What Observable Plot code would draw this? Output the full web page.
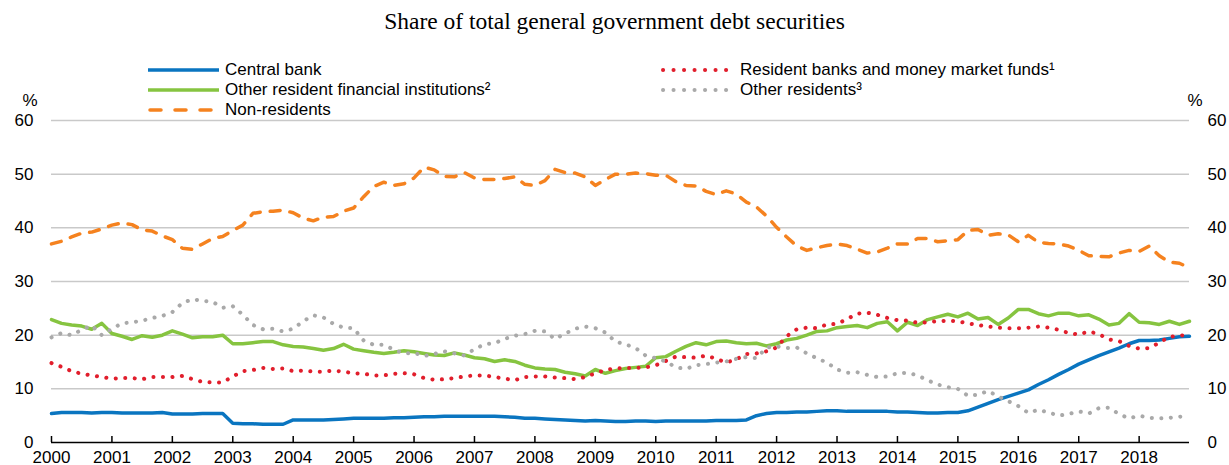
<!DOCTYPE html>
<html><head><meta charset="utf-8">
<script src="https://cdn.jsdelivr.net/npm/d3@7"></script>
<script src="https://cdn.jsdelivr.net/npm/@observablehq/plot@0.6"></script>
<style>
body{margin:0;background:#fff;}
#wrap{position:relative;width:1229px;height:465px;font-family:"Liberation Sans",Arial,sans-serif;color:#000;}
#chart{position:absolute;left:0;top:0;}
#title{position:absolute;left:0;top:8px;width:1229px;text-align:center;font-family:"Liberation Serif","Times New Roman",serif;font-size:23.5px;line-height:27px;}
.leg{position:absolute;font-size:17px;display:flex;align-items:center;height:20px;white-space:nowrap;}
.leg svg{display:block;}
</style></head><body>
<div id="wrap"><div id="chart"></div><div id="title"></div><div id="legend"></div></div>
<script>
const titleText = "Share of total general government debt securities";
const seriesNames = ["Central bank", "Other resident financial institutions²", "Non-residents", "Resident banks and money market funds¹", "Other residents³"];
const yearTicks = d3.range(2000, 2019);
const yTicks = [0, 10, 20, 30, 40, 50, 60];
// bimonthly observations: Jan, Mar, May, Jul, Sep, Nov of each year 2000–2018
const periods = d3.range(114).map(i => 2000 + i / 6);

const centralBank = [
5.4,5.6,5.6,5.6,5.5,5.6, 5.6,5.5,5.5,5.5,5.5,5.6, 5.3,5.3,5.3,5.4,5.4,5.4,
3.6,3.5,3.5,3.4,3.4,3.4, 4.2,4.2,4.2,4.2,4.3,4.4, 4.5,4.5,4.5,4.5,4.6,4.6,
4.7,4.8,4.8,4.9,4.9,4.9, 4.9,4.9,4.9,4.8,4.7,4.5, 4.5,4.4,4.3,4.2,4.1,4.0,
4.1,4.0,3.9,3.9,4.0,4.0, 3.9,4.0,4.0,4.0,4.0,4.0, 4.1,4.1,4.1,4.2,5.0,5.4,
5.6,5.6,5.7,5.7,5.8,5.9, 5.9,5.8,5.8,5.8,5.8,5.8, 5.7,5.7,5.6,5.5,5.5,5.6,
5.6,5.9,6.6,7.3,8.0,8.6, 9.2,9.8,10.8,11.7,12.7,13.6, 14.6,15.4,16.2,16.9,17.6,18.4,
19.0,19.0,19.1,19.4,19.7,19.8];

const otherFinancial = [
22.9,22.2,21.9,21.7,21.1,22.2, 20.3,19.8,19.2,19.9,19.6,20.0, 20.8,20.2,19.5,19.7,19.7,20.0,
18.4,18.4,18.6,18.8,18.8,18.2, 17.9,17.8,17.5,17.2,17.5,18.3, 17.4,17.1,16.8,16.6,16.8,17.1,
16.9,16.6,16.3,16.2,16.7,16.3, 15.8,15.6,15.1,15.4,15.1,14.4, 13.9,13.7,13.6,13.1,12.8,12.4,
13.6,12.9,13.4,13.8,14.0,14.2, 15.8,16.0,17.0,17.9,18.6,18.2, 18.8,18.9,18.6,18.4,18.5,18.0,
18.4,19.1,19.4,20.0,20.7,20.8, 21.4,21.6,21.8,21.4,22.2,22.5, 20.8,22.4,21.8,22.9,23.4,23.9,
23.4,24.1,23.0,23.3,22.0,23.2, 24.8,24.8,24.0,23.6,24.1,24.1, 23.6,23.8,23.0,21.9,22.2,24.0,
22.4,22.3,22.0,22.6,22.0,22.6];

const nonResidents = [
37.0,37.5,38.3,39.0,39.2,39.8, 40.5,40.9,40.6,39.6,39.4,38.5, 37.8,36.2,36.0,37.0,38.0,38.4,
39.5,40.5,42.7,43.0,43.1,43.3, 42.8,41.8,41.3,42.0,42.1,43.1, 43.7,45.8,47.7,48.5,47.9,48.2,
49.3,51.3,50.8,49.6,49.5,50.3, 49.3,49.0,49.0,49.2,49.5,48.1, 47.9,48.8,50.9,50.3,50.2,49.5,
47.9,49.0,50.0,50.0,50.2,50.1, 49.8,49.8,48.6,47.9,47.8,46.8, 46.2,46.9,46.3,44.8,43.9,42.2,
40.1,38.3,36.6,35.8,36.3,36.7, 37.0,36.7,36.0,35.3,35.5,36.2, 37.0,37.0,38.0,38.0,37.4,37.6,
37.8,39.5,39.7,38.6,38.9,38.7, 37.4,38.6,37.3,37.1,37.0,36.6, 35.8,34.8,34.7,34.6,35.3,35.8,
35.6,36.6,34.8,33.6,33.4,32.5];

const residentBanks = [
14.8,14.1,13.3,12.8,12.5,12.2, 11.9,12.0,12.0,11.8,12.2,12.2, 12.2,12.4,11.8,11.3,11.2,11.2,
12.3,13.3,13.5,13.9,13.7,13.8, 13.3,13.4,13.2,13.2,13.4,13.2, 12.9,12.8,12.5,12.5,12.8,12.9,
12.7,12.0,11.7,11.8,12.0,12.3, 12.5,12.5,12.2,11.9,11.6,12.2, 12.3,12.3,12.1,12.0,11.8,12.2,
12.9,13.5,13.8,13.9,13.9,14.0, 14.4,15.2,16.0,15.9,15.8,16.2, 15.6,14.9,15.5,16.5,16.6,17.0,
17.7,19.8,21.1,21.4,21.3,22.0, 22.1,23.0,24.0,24.2,23.8,23.2, 22.8,22.7,22.3,22.4,22.6,22.7,
22.6,22.2,21.9,21.6,21.4,21.3, 21.3,21.4,21.6,21.4,21.0,20.4, 20.1,20.7,20.2,19.2,18.9,18.0,
17.5,17.6,18.6,19.7,19.9,20.1];

const otherResidents = [
19.6,20.4,20.0,21.0,21.8,20.0, 21.2,22.2,22.4,22.7,23.2,23.6, 24.3,26.0,26.7,26.4,26.2,25.1,
25.4,23.8,21.9,21.1,21.2,20.7, 21.2,22.6,23.7,23.3,22.1,21.4, 21.3,19.0,18.2,18.2,17.3,16.6,
16.7,16.1,16.5,17.0,16.6,16.2, 17.4,18.3,18.5,19.3,19.9,20.2, 20.8,20.7,19.3,20.3,21.2,21.6,
21.3,20.5,18.8,18.3,17.6,16.2, 15.7,15.1,14.0,13.7,14.4,14.6, 14.9,15.1,15.6,15.9,15.7,17.7,
17.9,17.6,17.7,16.6,15.7,14.9, 13.6,13.0,13.1,12.6,12.2,12.3, 12.9,13.0,12.5,11.6,10.8,10.3,
10.0,8.7,8.9,9.6,8.6,7.7, 6.8,5.5,6.1,5.6,5.0,5.3, 5.8,5.4,6.4,6.5,5.3,4.5,
5.0,4.6,4.5,4.6,4.8,5.0];

const styles = {
  "Central bank": {stroke: "#0a75c0", strokeWidth: 3.5, strokeDasharray: null, strokeLinecap: "round"},
  "Other resident financial institutions²": {stroke: "#86c440", strokeWidth: 3.5, strokeDasharray: null, strokeLinecap: "round"},
  "Non-residents": {stroke: "#f5821f", strokeWidth: 3.5, strokeDasharray: "10,10", strokeLinecap: "round"},
  "Resident banks and money market funds¹": {stroke: "#e11e2c", strokeWidth: 4, strokeDasharray: "0.1,9.4", strokeLinecap: "round"},
  "Other residents³": {stroke: "#a9a9a9", strokeWidth: 4, strokeDasharray: "0.1,9.4", strokeLinecap: "round"}
};
const valuesByName = {
  "Central bank": centralBank,
  "Other resident financial institutions²": otherFinancial,
  "Non-residents": nonResidents,
  "Resident banks and money market funds¹": residentBanks,
  "Other residents³": otherResidents
};
const drawOrder = ["Non-residents", "Other resident financial institutions²", "Central bank", "Resident banks and money market funds¹", "Other residents³"];

const W = 1229, H = 465, mT = 120, mB = 23, mL = 51, mR = 40;
const plotH = H - mT - mB;

const lineMarks = drawOrder.map(name => {
  const data = valuesByName[name].map((v, i) => ({t: periods[i], v}));
  const s = styles[name];
  return Plot.line(data, {x: "t", y: "v", stroke: s.stroke, strokeWidth: s.strokeWidth,
    strokeDasharray: s.strokeDasharray, strokeLinecap: s.strokeLinecap, strokeLinejoin: "round"});
});

const chart = Plot.plot({
  width: W, height: H, marginTop: mT, marginBottom: mB, marginLeft: mL, marginRight: mR,
  x: {domain: [2000, periods[periods.length - 1]]},
  y: {domain: [0, 60]},
  style: {fontFamily: "'Liberation Sans', Arial, sans-serif", fontSize: "17px", color: "#000", background: "transparent", overflow: "visible"},
  marks: [
    Plot.gridY(yTicks.filter(d => d > 0), {stroke: "#c9c9c9", strokeOpacity: 1, strokeWidth: 1.5}),
    Plot.ruleY([0], {stroke: "#000", strokeWidth: 1.5}),
    Plot.ruleX(yearTicks, {x: d => d, insetTop: plotH - 6, stroke: "#000", strokeWidth: 1.5}),
    Plot.axisX(yearTicks, {tickSize: 0, tickPadding: 8, tickFormat: d => String(d), label: null}),
    Plot.axisY(yTicks, {anchor: "left", tickSize: 0, tickPadding: 18, label: null}),
    Plot.axisY(yTicks, {anchor: "right", tickSize: 0, tickPadding: 18, label: null}),
    Plot.text(["%"], {text: d => d, frameAnchor: "top-left", dx: -29, dy: -27}),
    Plot.text(["%"], {text: d => d, frameAnchor: "top-right", dx: 13, dy: -27}),
    ...lineMarks
  ]
});
document.getElementById("chart").appendChild(chart);
document.getElementById("title").textContent = titleText;

// legend
const legendLayout = [
  {name: "Central bank", left: 148, cy: 70, lw: 71, gap: 6},
  {name: "Other resident financial institutions²", left: 148, cy: 90, lw: 71, gap: 6},
  {name: "Non-residents", left: 148, cy: 110, lw: 71, gap: 6},
  {name: "Resident banks and money market funds¹", left: 660, cy: 70, lw: 68, gap: 12},
  {name: "Other residents³", left: 660, cy: 90, lw: 68, gap: 12}
];
const legend = d3.select("#legend");
legendLayout.forEach(l => {
  const s = styles[l.name];
  const item = legend.append("div").attr("class", "leg")
    .style("left", l.left + "px").style("top", (l.cy - 10) + "px");
  const svg = item.append("svg").attr("width", l.lw + l.gap).attr("height", 20);
  const dotted = s.strokeDasharray && s.strokeDasharray.startsWith("0.1");
  svg.append("line")
    .attr("x1", dotted ? 3 : (s.strokeDasharray ? 2 : 0)).attr("x2", dotted ? l.lw : (s.strokeDasharray ? l.lw - 2 : l.lw))
    .attr("y1", 10).attr("y2", 10)
    .attr("stroke", s.stroke).attr("stroke-width", s.strokeWidth)
    .attr("stroke-dasharray", dotted ? "0.1,10.4" : (s.strokeDasharray ? "11,14" : null))
    .attr("stroke-linecap", dotted || s.strokeDasharray ? "round" : "butt");
  item.append("span").text(l.name);
});
</script>
</body></html>
